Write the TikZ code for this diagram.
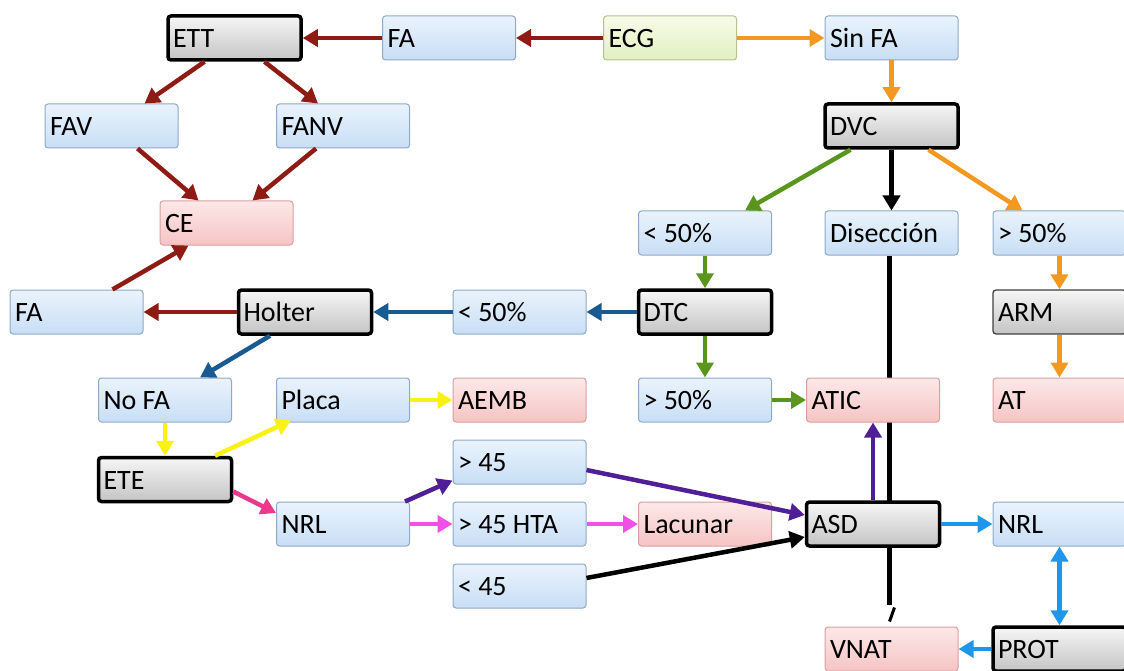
\documentclass[tikz,border=0pt]{standalone}
\usepackage{fontspec}
\setmainfont{Carlito}
\usetikzlibrary{arrows.meta,backgrounds,calc}
\newcommand\myboxfont{\fontsize{28}{30}\selectfont}
\definecolor{cDR}{RGB}{142,27,20}
\definecolor{cOR}{RGB}{243,152,32}
\definecolor{cGR}{RGB}{90,150,30}
\definecolor{cDB}{RGB}{25,90,145}
\definecolor{cYE}{RGB}{250,242,20}
\definecolor{cPK}{RGB}{235,55,140}
\definecolor{cMG}{RGB}{240,80,230}
\definecolor{cPU}{RGB}{80,30,150}
\definecolor{cLB}{RGB}{30,150,235}
\definecolor{bTop}{RGB}{234,243,253}
\definecolor{bBot}{RGB}{200,222,245}
\definecolor{bLine}{RGB}{140,170,200}
\definecolor{pTop}{RGB}{253,232,232}
\definecolor{pBot}{RGB}{246,196,196}
\definecolor{pLine}{RGB}{215,160,160}
\definecolor{gTop}{RGB}{246,246,246}
\definecolor{gBot}{RGB}{196,196,196}
\definecolor{eTop}{RGB}{248,251,232}
\definecolor{eBot}{RGB}{226,239,192}
\definecolor{eLine}{RGB}{180,195,140}
\tikzset{
  basebox/.style={rectangle, rounded corners=3pt, minimum height=44pt,
    text width=123pt, inner xsep=5pt, inner ysep=0pt, align=flush left,
    text height=19pt, text depth=0pt, font=\myboxfont},
  bluebox/.style={basebox, draw=bLine, line width=1pt, top color=bTop, bottom color=bBot},
  pinkbox/.style={basebox, draw=pLine, line width=1pt, top color=pTop, bottom color=pBot},
  greenbox/.style={basebox, draw=eLine, line width=1pt, top color=eTop, bottom color=eBot},
  graybox/.style={basebox, draw=black!75, line width=1.3pt, top color=gTop, bottom color=gBot},
  keybox/.style={basebox, draw=black, line width=3.5pt, top color=gTop, bottom color=gBot},
  arr/.style={line width=4.5pt, -{Triangle[length=15pt,width=17pt]}},
  darr/.style={line width=4.5pt, {Triangle[length=15pt,width=17pt]}-{Triangle[length=15pt,width=17pt]}}
}
\begin{document}
\begin{tikzpicture}[x=1pt,y=-1pt]
\useasboundingbox (0,0) rectangle (1124,671);
\clip (0,0) rectangle (1124,671);
% row 1
\node[keybox] (ett) at (234.5,38) {ETT};
\node[bluebox] (fa1) at (449,38) {FA};
\node[greenbox] (ecg) at (670,38) {ECG};
\node[bluebox] (sinfa) at (891.5,38) {Sin FA};
% row 2
\node[bluebox] (fav) at (111.5,126) {FAV};
\node[bluebox] (fanv) at (343,126) {FANV};
\node[keybox] (dvc) at (891.5,126) {DVC};
% row 3
\node[pinkbox] (ce) at (226.5,223) {CE};
\node[bluebox] (lta) at (705,233) {< 50\%};
\node[bluebox] (disec) at (891.5,233) {Disección};
\node[bluebox] (gta) at (1059.5,233) {> 50\%};
% row 4
\node[bluebox] (fa2) at (76.5,312) {FA};
\node[keybox] (holter) at (305,312) {Holter};
\node[bluebox] (ltb) at (519.5,312) {< 50\%};
\node[keybox] (dtc) at (705,312) {DTC};
\node[graybox] (arm) at (1059.5,312) {ARM};
% row 5
\node[bluebox] (nofa) at (165,400) {No FA};
\node[bluebox] (placa) at (343,400) {Placa};
\node[pinkbox] (aemb) at (519.5,400) {AEMB};
\node[bluebox] (gtb) at (705,400) {> 50\%};
\node[pinkbox] (atic) at (873,400) {ATIC};
\node[pinkbox] (at) at (1059.5,400) {AT};
% lower
\node[keybox] (ete) at (165,479.5) {ETE};
\node[bluebox] (gtf) at (519.5,462) {> 45};
\node[bluebox] (nrla) at (343,524) {NRL};
\node[bluebox] (gtfh) at (519.5,524) {> 45 HTA};
\node[pinkbox] (lac) at (705,524) {Lacunar};
\node[keybox] (asd) at (873,524) {ASD};
\node[bluebox] (nrlb) at (1059.5,524) {NRL};
\node[bluebox] (ltf) at (519.5,586) {< 45};
\node[pinkbox] (vnat) at (891.5,649) {VNAT};
\node[keybox] (prot) at (1059.5,649) {PROT};
\coordinate (vend) at ($(vnat.north)+(-2,-22)$);
\coordinate (tka) at ($(vnat.north)+(3,-19)$);
\coordinate (tkb) at ($(vnat.north)+(-2,-5)$);
% background black line
\begin{scope}[on background layer]
\draw[line width=4.5pt] ($(disec.south)+(-2,0)$) -- (vend);
\end{scope}
\draw[line width=3pt] (tka) -- (tkb);
% dark red
\draw[arr, cDR] (ecg.west) -- (fa1.east);
\draw[arr, cDR] (fa1.west) -- (ett.east);
\draw[arr, cDR] ($(ett.south)+(-30,0)$) -- ($(fav.north)+(33,0)$);
\draw[arr, cDR] ($(ett.south)+(30,0)$) -- ($(fanv.north)+(-25,0)$);
\draw[arr, cDR] ($(fav.south)+(26,0)$) -- ($(ce.north)+(-28,0)$);
\draw[arr, cDR] ($(fanv.south)+(-27,0)$) -- ($(ce.north)+(26,0)$);
\draw[arr, cDR] ($(fa2.north)+(36,0)$) -- ($(ce.south)+(-38,0)$);
\draw[arr, cDR] (holter.west) -- (fa2.east);
% orange
\draw[arr, cOR] (ecg.east) -- (sinfa.west);
\draw[arr, cOR] (sinfa.south) -- (dvc.north);
\draw[arr, cOR] ($(dvc.south)+(37,0)$) -- ($(gta.north)+(-37,0)$);
\draw[arr, cOR] (gta.south) -- (arm.north);
\draw[arr, cOR] (arm.south) -- (at.north);
% black
\draw[arr, black] (dvc.south) -- (disec.north);
% green
\draw[arr, cGR] ($(dvc.south)+(-41,0)$) -- ($(lta.north)+(40,0)$);
\draw[arr, cGR] (lta.south) -- (dtc.north);
\draw[arr, cGR] (dtc.south) -- (gtb.north);
\draw[arr, cGR] (gtb.east) -- (atic.west);
% dark blue
\draw[arr, cDB] (dtc.west) -- (ltb.east);
\draw[arr, cDB] (ltb.west) -- (holter.east);
\draw[arr, cDB] ($(holter.south)+(-35,0)$) -- ($(nofa.north)+(35,0)$);
% yellow
\draw[arr, cYE] (nofa.south) -- (ete.north);
\draw[arr, cYE] ($(ete.north)+(50,0)$) -- ($(placa.south)+(-52,-2)$);
\draw[arr, cYE] (placa.east) -- (aemb.west);
% pink / magenta
\draw[arr, cPK] ($(ete.east)+(0,12)$) -- ($(nrla.west)+(0,-11)$);
\draw[arr, cMG] (nrla.east) -- (gtfh.west);
\draw[arr, cMG] (gtfh.east) -- (lac.west);
% purple
\draw[arr, cPU] ($(nrla.north east)+(-5,0)$) -- ($(gtf.south west)+(0,-4)$);
\draw[arr, cPU] ($(gtf.east)+(0,8)$) -- ($(asd.west)+(0,-9)$);
\draw[arr, cPU] (asd.north) -- (atic.south);
% black < 45
\draw[arr, black] ($(ltf.east)+(0,-8)$) -- ($(asd.west)+(0,13)$);
% light blue
\draw[arr, cLB] (asd.east) -- (nrlb.west);
\draw[darr, cLB] (nrlb.south) -- (prot.north);
\draw[arr, cLB] (prot.west) -- (vnat.east);
\end{tikzpicture}
\end{document}
